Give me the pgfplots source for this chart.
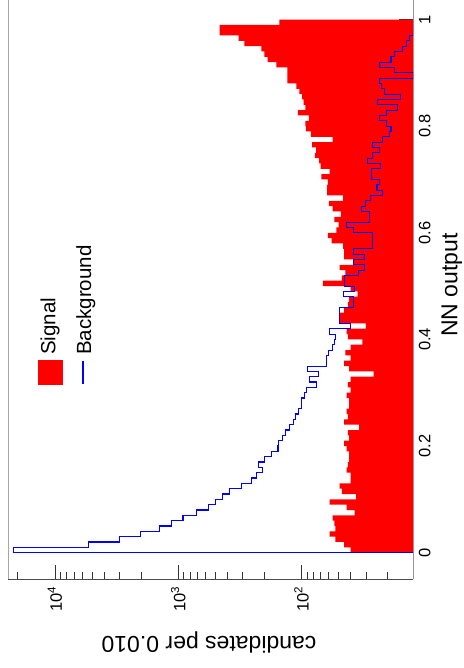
\documentclass[border=0pt]{standalone}
\usepackage{pgfplots}
\pgfplotsset{compat=1.18}
\usepackage{fontspec}
\setmainfont{Liberation Sans}
\begin{document}
\begin{tikzpicture}
\begin{axis}[name=ax, scale only axis, width=405pt, height=579.4pt,
 xmode=log, x dir=reverse, xmin=12.4, xmax=23900, ymin=-0.05, ymax=1.0366,
 axis x line*=bottom,
 x axis line style={black!70, line width=0.8pt},
 y axis line style={black!35, line width=1.2pt},
 xtick={100,1000,10000},
 xticklabels={10\textsuperscript{2},10\textsuperscript{3},10\textsuperscript{4}},
 minor xtick={20,30,40,50,60,70,80,90,200,300,400,500,600,700,800,900,2000,3000,4000,5000,6000,7000,8000,9000,20000},
 ytick={0,0.2,0.4,0.6,0.8,1},
 yticklabels={0,0.2,0.4,0.6,0.8,1},
 minor ytick={0.05,0.1,0.15,0.25,0.3,0.35,0.45,0.5,0.55,0.65,0.7,0.75,0.85,0.9,0.95},
 ytick pos=right,
 tick align=inside,
 major tick length=14pt, minor tick length=7pt,
 tick style={black!80, line width=0.8pt},
 xticklabel style={rotate=90, anchor=east, inner sep=0pt, font=\fontsize{16.5}{18}\selectfont},
 xticklabel shift=7pt,
 yticklabel style={rotate=90, anchor=north, inner sep=0pt, font=\fontsize{16.5}{18}\selectfont},
 yticklabel shift=5.5pt,
]
\addplot[fill=red, draw=none, const plot mark right] coordinates {
(12.4,0) (40,0) (45,0.01) (53,0.02) (59,0.03) (53,0.04) (54,0.05) (56,0.06) (37,0.07) (43,0.08) (59,0.09)
(36,0.10) (47,0.11) (49,0.12) (40,0.13) (40,0.14) (43,0.15) (42,0.16) (41,0.17) (41,0.18) (43,0.19)
(45,0.20) (41,0.21) (42,0.22) (34,0.23) (45,0.24) (42,0.25) (43,0.26) (41,0.27) (41,0.28) (43,0.29)
(40,0.30) (42,0.31) (40,0.32) (26,0.33) (41,0.34) (45,0.35) (40,0.36) (44,0.37) (40,0.38) (32,0.39)
(42,0.40) (43,0.41) (30,0.42) (49,0.43) (49,0.44) (45,0.45) (42,0.46) (41,0.47) (35,0.48) (40,0.49)
(67,0.50) (47,0.51) (44,0.52) (49,0.53) (38,0.54) (45,0.55) (45,0.56) (46,0.57) (57,0.58) (61,0.59)
(52,0.60) (50,0.61) (54,0.62) (48,0.63) (56,0.64) (60,0.65) (46,0.66) (62,0.67) (62,0.68) (61,0.69)
(69,0.70) (59,0.71) (70,0.72) (72,0.73) (78,0.74) (76,0.75) (82,0.76) (56,0.77) (84,0.78) (92,0.79)
(93,0.80) (87,0.81) (107,0.82) (93,0.83) (96,0.84) (99,0.85) (104,0.86) (110,0.87) (130,0.88) (130,0.89)
(130,0.90) (160,0.91) (188,0.92) (200,0.93) (212,0.94) (290,0.95) (324,0.96) (462,0.97) (462,0.98) (151,0.99)
(12.4,1.0)};
\addplot[blue, line width=1.1pt, const plot mark right] coordinates {
(12.4,-0.05) (21800,0) (5370,0.01) (3010,0.02) (2020,0.03) (1410,0.04) (1135,0.05) (914,0.06) (713,0.07) (570,0.08) (495,0.09)
(440,0.10) (385,0.11) (308,0.12) (255,0.13) (230,0.14) (206,0.15) (222,0.16) (199,0.17) (176,0.18) (155,0.19)
(153,0.20) (143,0.21) (134,0.22) (126,0.23) (117,0.24) (111,0.25) (105,0.26) (100,0.27) (100,0.28) (95,0.29)
(91,0.30) (76,0.31) (86,0.32) (73,0.33) (90,0.34) (63,0.35) (63,0.36) (60,0.37) (56,0.38) (54,0.39)
(53,0.40) (59,0.41) (40,0.42) (49,0.43) (49,0.44) (49,0.45) (38,0.46) (38,0.47) (46,0.48) (37,0.49)
(44.6,0.50) (44.6,0.51) (34.7,0.52) (30.7,0.53) (38,0.54) (31,0.55) (38,0.56) (26.5,0.57) (26.5,0.58) (26.5,0.59)
(38,0.60) (43,0.61) (28.3,0.62) (28.3,0.63) (32.6,0.64) (30,0.65) (27.4,0.66) (22,0.67) (24.4,0.68) (23.2,0.69)
(27,0.70) (27,0.71) (23,0.72) (29,0.73) (26.5,0.74) (23.3,0.75) (26.5,0.76) (22,0.77) (19.4,0.78) (18.8,0.79)
(20.6,0.80) (23.3,0.81) (20.6,0.82) (16.6,0.83) (24.1,0.84) (15.6,0.85) (21.3,0.86) (22.6,0.87) (23.3,0.88) (12.4,0.89)
(17.7,0.90) (23.3,0.91) (18.8,0.92) (17.7,0.93) (15.2,0.94) (14.0,0.95) (13.4,0.96) (12.4,0.97) (12.4,0.98) (12.4,0.99)
(12.4,1.0) (12.4,1.05)};
\end{axis}
\node[rotate=180, inner sep=0pt, font=\fontsize{23}{26}\selectfont] at ([shift={(200.7pt,-62.7pt)}]ax.south west) {candidates per 0.010};
\node[rotate=90, inner sep=0pt, font=\fontsize{23}{26}\selectfont] at ([shift={(443.7pt,294.3pt)}]ax.south west) {NN output};
\fill[red] ([shift={(29.7pt,194.3pt)}]ax.south west) rectangle ([shift={(54.7pt,219.3pt)}]ax.south west);
\draw[blue, line width=1.1pt] ([shift={(74.7pt,195.3pt)}]ax.south west) -- ([shift={(74.7pt,218.3pt)}]ax.south west);
\node[rotate=90, anchor=west, inner sep=0pt, font=\fontsize{20.5}{24}\selectfont] at ([shift={(41.7pt,224.3pt)}]ax.south west) {Signal};
\node[rotate=90, anchor=west, inner sep=0pt, font=\fontsize{20.5}{24}\selectfont] at ([shift={(77.5pt,224.3pt)}]ax.south west) {Background};
\pgfresetboundingbox
\path[use as bounding box] ([shift={(-8.3pt,-88.7pt)}]ax.south west) rectangle ([shift={(455.7pt,579.4pt)}]ax.south west);
\end{tikzpicture}
\end{document}
